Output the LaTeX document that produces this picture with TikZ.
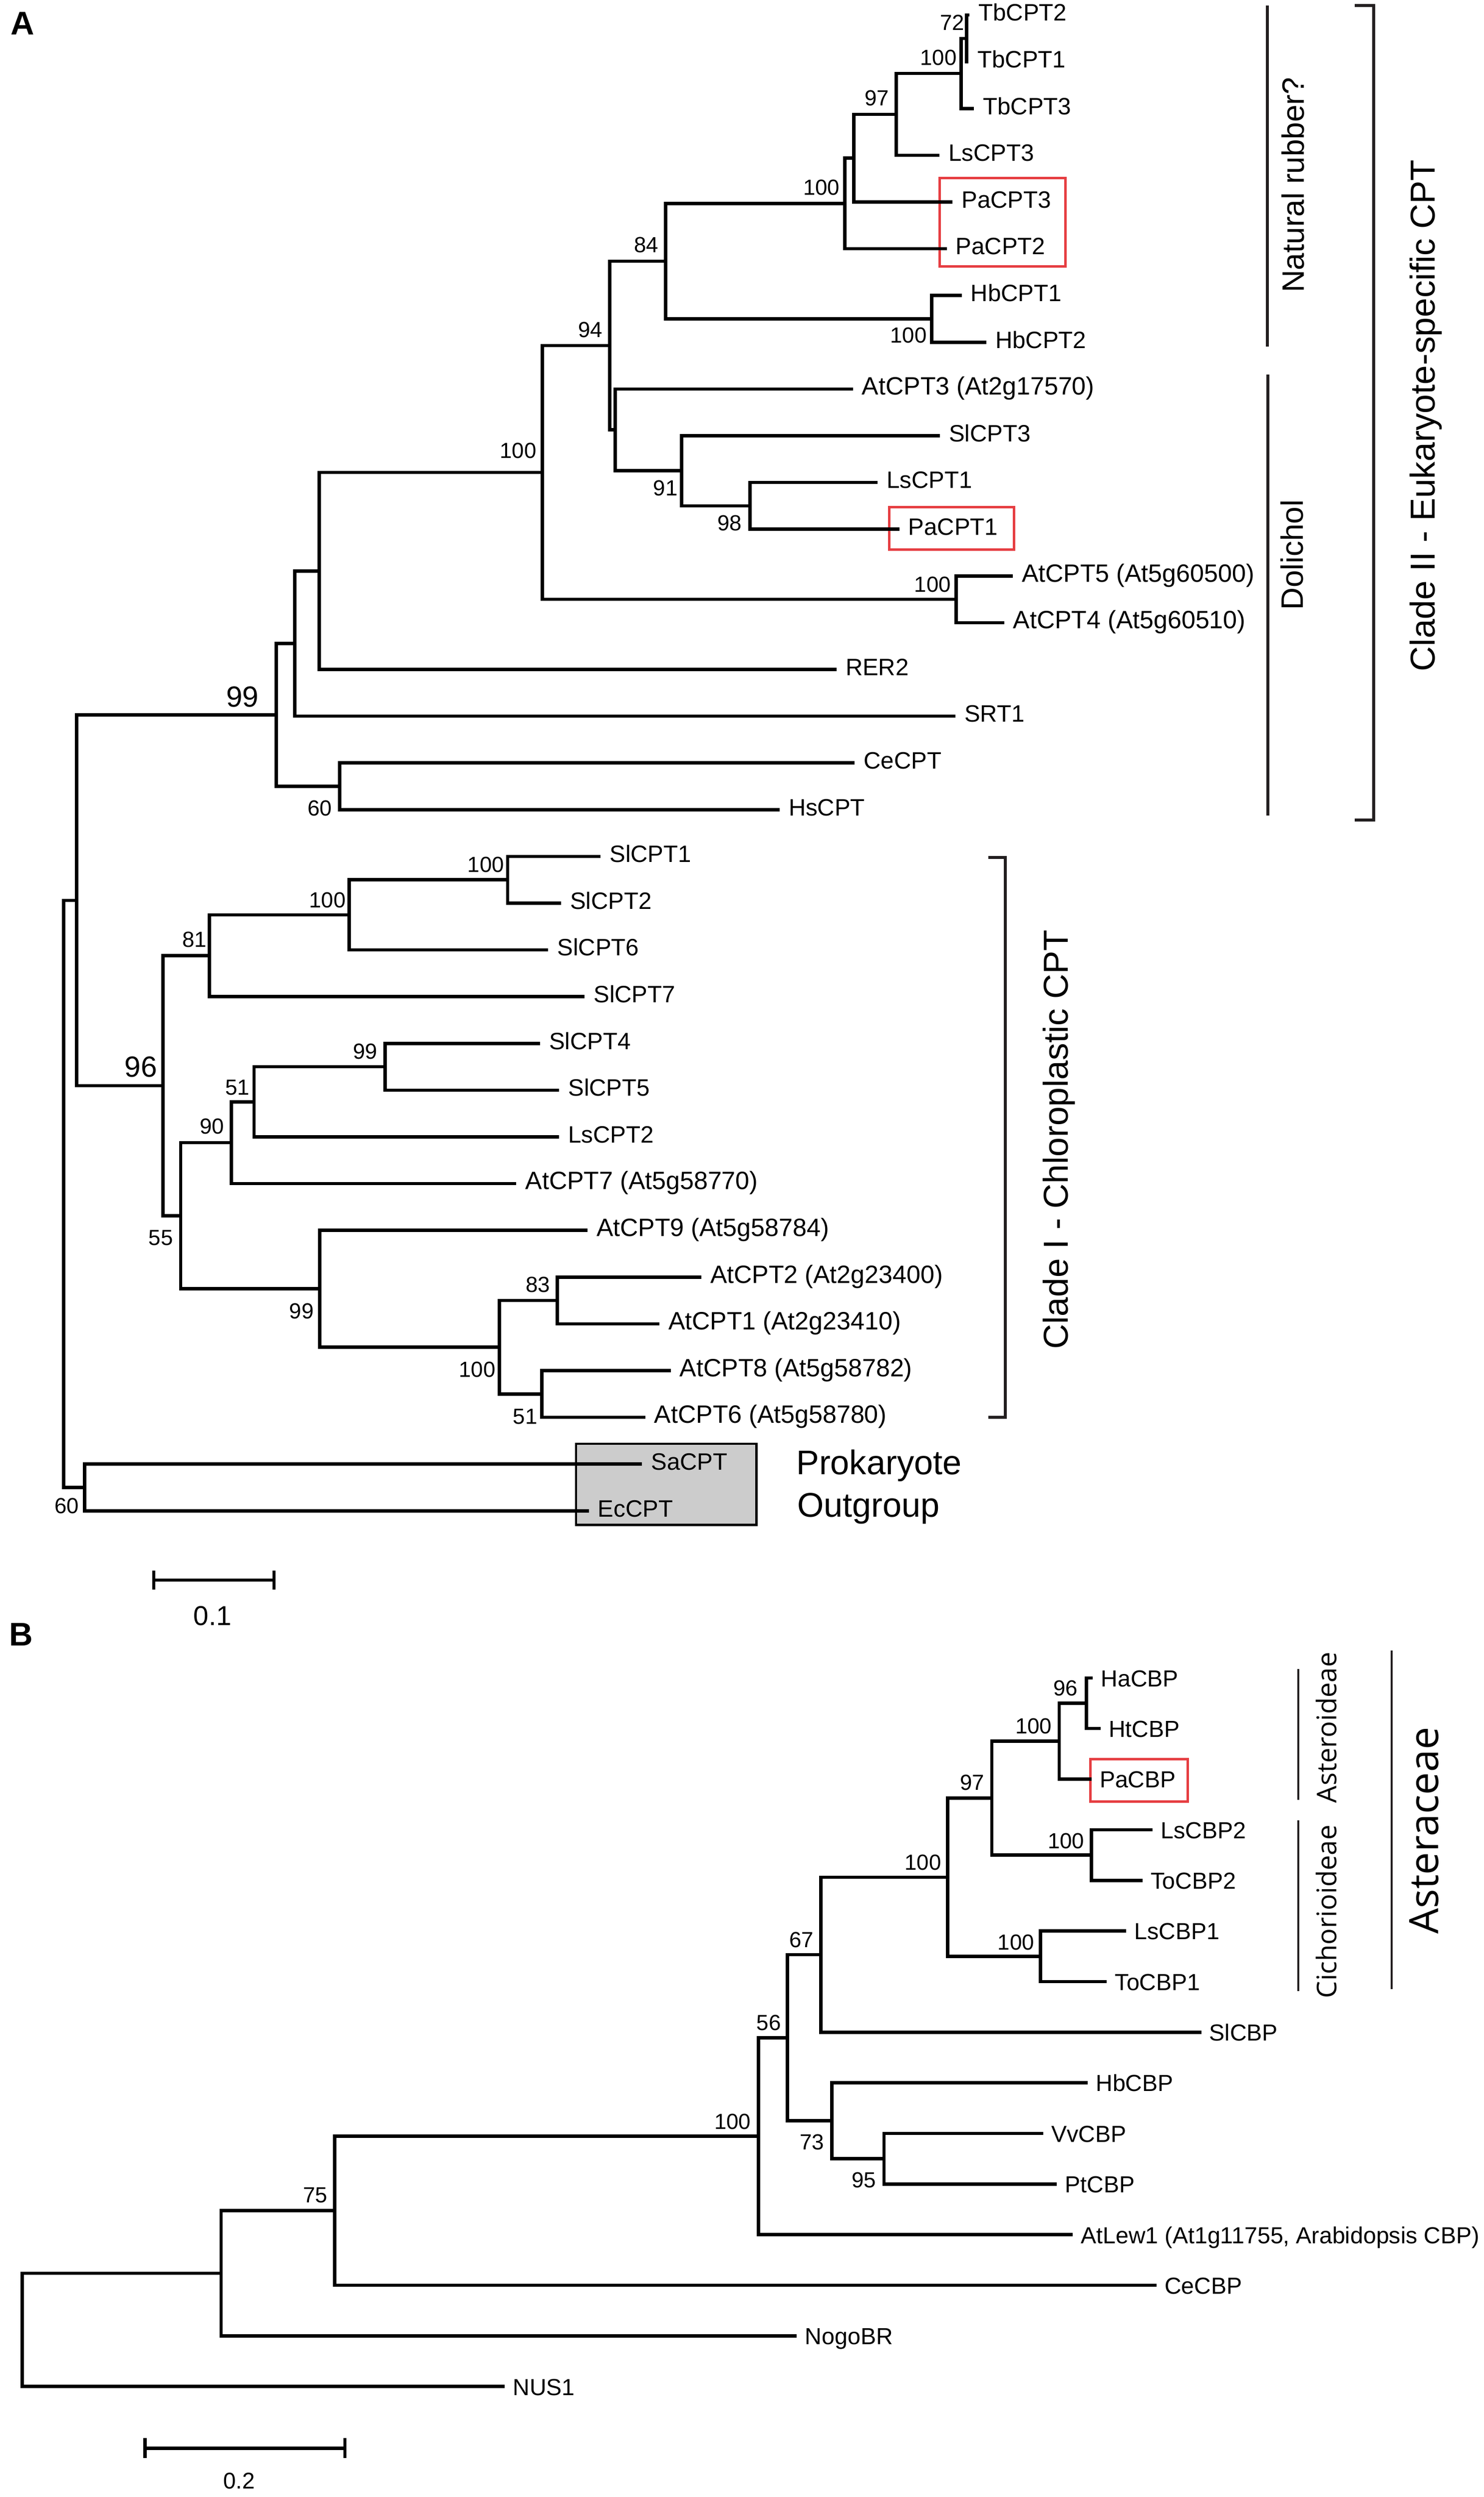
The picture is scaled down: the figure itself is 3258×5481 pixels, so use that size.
\documentclass[tikz,border=0pt]{standalone}
\usepackage{fontspec}
\setmainfont{Liberation Sans}
\newfontfamily\humfont{Open Sans}
\usetikzlibrary{calc}
\definecolor{boxred}{RGB}{230,62,66}
\definecolor{brkc}{RGB}{35,31,32}
\definecolor{outgray}{RGB}{204,204,204}
\newcommand{\LeafA}[4]{\coordinate (#1) at (#2,#3);
  \node[leafA, anchor=base west] (#1lab) at ($(#1)+(19,13)$) {#4};}
\newcommand{\LeafAP}[4]{\coordinate (#1) at (#2,#3);
  \node[leafAp, anchor=base west] (#1lab) at ($(#1)+(19,13)$) {#4};}
\newcommand{\LeafB}[4]{\coordinate (#1) at (#2,#3);
  \node[leafB, anchor=base west] (#1lab) at ($(#1)+(17,19)$) {#4};}
\newcommand{\TNode}[4]{\coordinate (#1m) at ($(#3)!0.5!(#4)$);
  \coordinate (#1) at (#2,0 |- #1m);
  \draw[tree] (#3) -| (#1) |- (#4);}
\begin{document}
\begin{tikzpicture}[x=0.2pt,y=-0.2pt,
  tree/.style={line width=1.45pt, line join=miter},
  brk/.style={draw=brkc, line width=1.3pt},
  brkB/.style={draw=brkc, line width=0.9pt},
  leafA/.style={inner sep=0pt, font=\fontsize{10.4}{12}\selectfont},
  leafAp/.style={inner sep=0pt, font=\fontsize{11}{13}\selectfont},
  leafB/.style={inner sep=0pt, font=\fontsize{10.2}{12}\selectfont},
  bs/.style={inner sep=0pt, font=\fontsize{9.6}{11}\selectfont, anchor=base east},
  bsbig/.style={inner sep=0pt, font=\fontsize{12.8}{15}\selectfont, anchor=base east},
  cladetxt/.style={inner sep=0pt, rotate=90, anchor=base, font=\fontsize{15.2}{18}\selectfont},
  subtxt/.style={inner sep=0pt, rotate=90, anchor=base, font=\fontsize{13.6}{16}\selectfont},
  humtxt/.style={inner sep=0pt, rotate=90, anchor=base, font=\humfont\fontsize{11.9}{14}\selectfont},
  redbox/.style={draw=boxred, line width=1.1pt},
  panel/.style={inner sep=0pt, anchor=base west, font=\bfseries\fontsize{14.4}{17}\selectfont},
  scalebar/.style={line width=1.4pt}
]
\fill[white] (0,0) rectangle (3258,5481);
\useasboundingbox (0,0) rectangle (3258,5481);

% ---------------- Panel A ----------------
\node[panel] (labA) at (23,76) {A};

% grey outgroup box and red boxes
\draw[fill=outgray, draw=black, line width=1pt] (1265,3169) rectangle (1661,3347);
\coordinate (rb1a) at (2064,391); \coordinate (rb1b) at (2340,585);
\draw[redbox] (rb1a) rectangle (rb1b);
\coordinate (rb2a) at (1953,1113); \coordinate (rb2b) at (2227,1206);
\draw[redbox] (rb2a) rectangle (rb2b);

% leaves
\LeafA{TbCPT2}{2129}{33}{TbCPT2}
\LeafA{TbCPT1}{2127}{135.6}{TbCPT1}
\LeafA{TbCPT3}{2139}{238.2}{TbCPT3}
\LeafA{LsCPT3}{2063}{340.8}{LsCPT3}
\LeafA{PaCPT3}{2092}{443.4}{PaCPT3}
\LeafA{PaCPT2}{2079}{546}{PaCPT2}
\LeafA{HbCPT1}{2112}{648.6}{HbCPT1}
\LeafA{HbCPT2}{2166}{751.2}{HbCPT2}
\LeafAP{AtCPT3}{1873}{853.8}{AtCPT3 (At2g17570)}
\LeafA{SlCPT3}{2064}{956.4}{SlCPT3}
\LeafA{LsCPT1}{1927}{1059}{LsCPT1}
\LeafA{PaCPT1}{1975}{1161.6}{PaCPT1}
\LeafAP{AtCPT5}{2224}{1264.2}{AtCPT5 (At5g60500)}
\LeafAP{AtCPT4}{2205}{1366.8}{AtCPT4 (At5g60510)}
\LeafA{RER2}{1837}{1469.4}{RER2}
\LeafA{SRT1}{2098}{1572}{SRT1}
\LeafA{CeCPT}{1877}{1674.6}{CeCPT}
\LeafA{HsCPT}{1712}{1777.2}{HsCPT}
\LeafA{SlCPT1}{1319}{1879.8}{SlCPT1}
\LeafA{SlCPT2}{1232}{1982.4}{SlCPT2}
\LeafA{SlCPT6}{1204}{2085}{SlCPT6}
\LeafA{SlCPT7}{1284}{2187.6}{SlCPT7}
\LeafA{SlCPT4}{1186}{2290.2}{SlCPT4}
\LeafA{SlCPT5}{1228}{2392.8}{SlCPT5}
\LeafA{LsCPT2}{1228}{2495.4}{LsCPT2}
\LeafAP{AtCPT7}{1134}{2598}{AtCPT7 (At5g58770)}
\LeafAP{AtCPT9}{1290}{2700.6}{AtCPT9 (At5g58784)}
\LeafAP{AtCPT2}{1540}{2803.2}{AtCPT2 (At2g23400)}
\LeafAP{AtCPT1}{1448}{2905.8}{AtCPT1 (At2g23410)}
\LeafAP{AtCPT8}{1473}{3008.4}{AtCPT8 (At5g58782)}
\LeafAP{AtCPT6}{1417}{3111}{AtCPT6 (At5g58780)}
\LeafA{SaCPT}{1410}{3213.6}{SaCPT}
\LeafA{EcCPT}{1293}{3316.2}{EcCPT}

% internal nodes (clade II)
\TNode{nA72}{2123}{TbCPT2}{TbCPT1}
\TNode{nATb}{2111}{nA72}{TbCPT3}
\TNode{nA97}{1968}{nATb}{LsCPT3}
\TNode{nAPa}{1875}{nA97}{PaCPT3}
\TNode{nAPb}{1855}{nAPa}{PaCPT2}
\TNode{nAHb}{2046}{HbCPT1}{HbCPT2}
\TNode{nA84}{1462}{nAPb}{nAHb}
\TNode{nA98}{1647}{LsCPT1}{PaCPT1}
\TNode{nA91}{1497}{SlCPT3}{nA98}
\TNode{nAQ}{1351}{AtCPT3}{nA91}
\TNode{nA94}{1339}{nA84}{nAQ}
\TNode{nAAt}{2100}{AtCPT5}{AtCPT4}
\TNode{nAC}{1191}{nA94}{nAAt}
\TNode{nAR}{701}{nAC}{RER2}
\TNode{nAS}{647}{nAR}{SRT1}
\TNode{nA60}{746}{CeCPT}{HsCPT}
\TNode{nA99}{607}{nAS}{nA60}
% clade I
\TNode{nASa}{1115}{SlCPT1}{SlCPT2}
\TNode{nASb}{767}{nASa}{SlCPT6}
\TNode{nA81}{460}{nASb}{SlCPT7}
\TNode{nASc}{846}{SlCPT4}{SlCPT5}
\TNode{nA51a}{558}{nASc}{LsCPT2}
\TNode{nA90}{508}{nA51a}{AtCPT7}
\TNode{nA83}{1224}{AtCPT2}{AtCPT1}
\TNode{nA51b}{1190}{AtCPT8}{AtCPT6}
\TNode{nAAc}{1097}{nA83}{nA51b}
\TNode{nA99b}{702}{AtCPT9}{nAAc}
\TNode{nA55}{397}{nA90}{nA99b}
\TNode{nA96}{358}{nA81}{nA55}
\TNode{nAE}{168}{nA99}{nA96}
\TNode{nAPr}{186}{SaCPT}{EcCPT}
\TNode{rootA}{140}{nAE}{nAPr}

% bootstrap values A
\node[bs] (bA72) at (2119,66) {72};
\node[bs] (bATb) at (2102,143) {100};
\node[bs] (bA97) at (1953,232) {97};
\node[bs] (bAPb) at (1845,428) {100};
\node[bs] (bA84) at (1447,554) {84};
\node[bs] (bAHb) at (2036,753) {100};
\node[bs] (bA94) at (1324,740) {94};
\node[bs] (bAC) at (1179,1006) {100};
\node[bs] (bA91) at (1489,1088) {91};
\node[bs] (bA98) at (1630,1165) {98};
\node[bs] (bAAt) at (2089,1299) {100};
\node[bsbig] (bA99) at (569,1552) {99};
\node[bs] (bA60) at (730,1791) {60};
\node[bs] (bASa) at (1108,1914) {100};
\node[bs] (bASb) at (760,1992) {100};
\node[bs] (bA81) at (455,2079) {81};
\node[bsbig] (bA96) at (346,2364) {96};
\node[bs] (bASc) at (830,2324) {99};
\node[bs] (bA51a) at (549,2403) {51};
\node[bs] (bA90) at (493,2489) {90};
\node[bs] (bA55) at (381,2733) {55};
\node[bs] (bA99b) at (690,2894) {99};
\node[bs] (bA83) at (1209,2836) {83};
\node[bs] (bAAc) at (1089,3023) {100};
\node[bs] (bA51b) at (1181,3126) {51};
\node[bs] (bAPr) at (174,3322) {60};

% outgroup text
\node[inner sep=0pt, anchor=base west, font=\fontsize{15}{18}\selectfont] (prok) at (1748,3237) {Prokaryote};
\node[inner sep=0pt, anchor=base west, font=\fontsize{15}{18}\selectfont] (outg) at (1750,3330) {Outgroup};

% brackets A
\coordinate (nrT) at (2783,12); \coordinate (nrB) at (2783,761);
\draw[brk] (nrT) -- (nrB);
\coordinate (doT) at (2784,822); \coordinate (doB) at (2784,1790);
\draw[brk] (doT) -- (doB);
\coordinate (c2a) at (2975,12); \coordinate (c2b) at (3017,12);
\coordinate (c2c) at (3017,1800); \coordinate (c2d) at (2975,1800);
\draw[brk] (c2a) -- (c2b) -- (c2c) -- (c2d);
\coordinate (c1a) at (2170,1882); \coordinate (c1b) at (2208,1882);
\coordinate (c1c) at (2208,3111); \coordinate (c1d) at (2170,3111);
\draw[brk] (c1a) -- (c1b) -- (c1c) -- (c1d);
\node[subtxt] (natr) at (2864,406) {Natural rubber?};
\node[subtxt] (doli) at (2862,1218) {Dolichol};
\node[cladetxt] (clII) at (3151,912) {Clade II - Eukaryote-specific CPT};
\node[cladetxt] (clI) at (2345,2501) {Clade I - Chloroplastic CPT};

% scale bar A
\coordinate (sA1) at (337.5,3468); \coordinate (sA2) at (601.6,3468);
\draw[scalebar] (sA1) -- (sA2);
\draw[scalebar] ($(sA1)+(0,-20)$) -- ($(sA1)+(0,21)$);
\draw[scalebar] ($(sA2)+(0,-20)$) -- ($(sA2)+(0,21)$);
\node[inner sep=0pt, anchor=base, font=\fontsize{12}{14}\selectfont] (sAl) at (467,3568) {0.1};

% ---------------- Panel B ----------------
\node[panel] (labB) at (19,3613) {B};
\coordinate (rb3a) at (2395,3861); \coordinate (rb3b) at (2608,3955);
\draw[redbox] (rb3a) rectangle (rb3b);

\LeafB{HaCBP}{2400}{3683}{HaCBP}
\LeafB{HtCBP}{2417}{3794.1}{HtCBP}
\LeafB{PaCBP}{2397}{3905.2}{PaCBP}
\LeafB{LsCBP2}{2531.5}{4016.3}{LsCBP2}
\LeafB{ToCBP2}{2509}{4127.4}{ToCBP2}
\LeafB{LsCBP1}{2473}{4238.5}{LsCBP1}
\LeafB{ToCBP1}{2430.6}{4349.6}{ToCBP1}
\LeafB{SlCBP}{2638}{4460.7}{SlCBP}
\LeafB{HbCBP}{2388.6}{4571.8}{HbCBP}
\LeafB{VvCBP}{2291}{4682.9}{VvCBP}
\LeafB{PtCBP}{2321}{4794}{PtCBP}
\LeafB{AtLew1}{2356}{4905.1}{AtLew1 (At1g11755, Arabidopsis CBP)}
\LeafB{CeCBP}{2539.6}{5016.2}{CeCBP}
\LeafB{NogoBR}{1750}{5127.3}{NogoBR}
\LeafB{NUS1}{1108.5}{5238.4}{NUS1}

\TNode{nB96}{2386}{HaCBP}{HtCBP}
\TNode{nB100a}{2326}{nB96}{PaCBP}
\TNode{nBLT2}{2397}{LsCBP2}{ToCBP2}
\TNode{nB97}{2178}{nB100a}{nBLT2}
\TNode{nBLT1}{2285}{LsCBP1}{ToCBP1}
\TNode{nB100b}{2081}{nB97}{nBLT1}
\TNode{nB67}{1803}{nB100b}{SlCBP}
\TNode{nB95}{1941.5}{VvCBP}{PtCBP}
\TNode{nB73}{1827}{HbCBP}{nB95}
\TNode{nB56}{1729}{nB67}{nB73}
\TNode{nB100c}{1665.5}{nB56}{AtLew1}
\TNode{nB75}{735}{nB100c}{CeCBP}
\TNode{nBN}{485.5}{nB75}{NogoBR}
\TNode{rootB}{49}{nBN}{NUS1}

\node[bs] (bB96) at (2368,3722) {96};
\node[bs] (bB100a) at (2311,3805) {100};
\node[bs] (bB97) at (2163,3929) {97};
\node[bs] (bBLT2) at (2382,4057) {100};
\node[bs] (bBLT1) at (2272,4280) {100};
\node[bs] (bB100b) at (2068,4105) {100};
\node[bs] (bB67) at (1788,4275) {67};
\node[bs] (bB56) at (1716,4456) {56};
\node[bs] (bB73) at (1811,4719) {73};
\node[bs] (bB95) at (1925,4802) {95};
\node[bs] (bB100c) at (1650,4674) {100};
\node[bs] (bB75) at (720,4835) {75};

% brackets B
\coordinate (asT) at (2851,3663.5); \coordinate (asB) at (2851,3950.5);
\draw[brkB] (asT) -- (asB);
\coordinate (ciT) at (2851,3996); \coordinate (ciB) at (2851,4371);
\draw[brkB] (ciT) -- (ciB);
\coordinate (acT) at (3056,3623); \coordinate (acB) at (3056,4366);
\draw[brkB] (acT) -- (acB);
\node[humtxt] (aster) at (2935,3792) {Asteroideae};
\node[humtxt] (cicho) at (2935,4196) {Cichorioideae};
\node[inner sep=0pt, rotate=90, anchor=base, font=\humfont\fontsize{17.7}{21}\selectfont] (astcc) at (3159,4018) {Asteraceae};

% scale bar B
\coordinate (sB1) at (318.5,5374); \coordinate (sB2) at (757.7,5374);
\draw[scalebar] (sB1) -- (sB2);
\draw[scalebar] ($(sB1)+(0,-22)$) -- ($(sB1)+(0,21)$);
\draw[scalebar] ($(sB2)+(0,-22)$) -- ($(sB2)+(0,21)$);
\node[inner sep=0pt, anchor=base, font=\fontsize{10}{12}\selectfont] (sBl) at (525,5463) {0.2};
\end{tikzpicture}
\end{document}
